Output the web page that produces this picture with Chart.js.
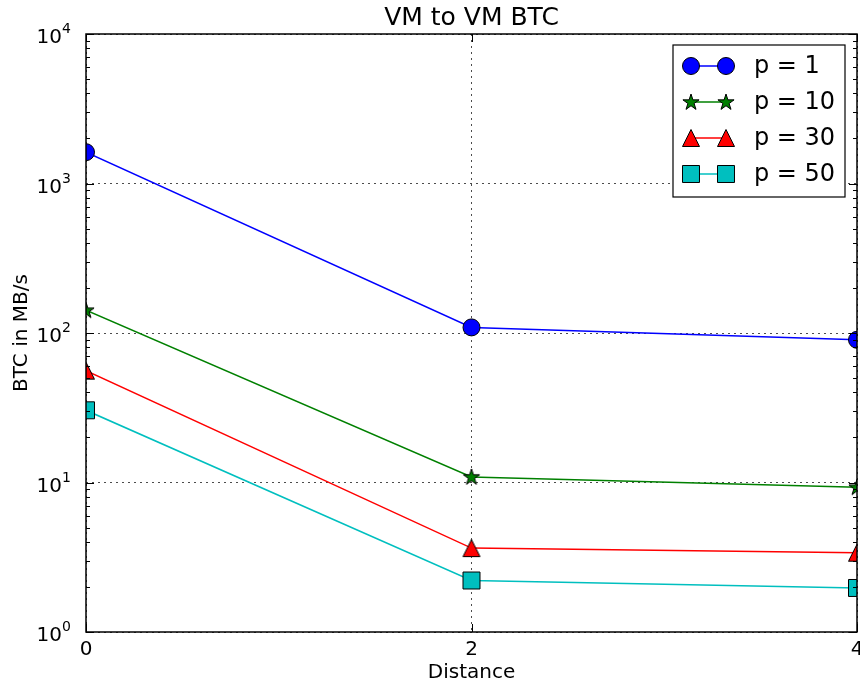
<!DOCTYPE html>
<html>
<head>
<meta charset="utf-8">
<script src="https://cdn.jsdelivr.net/npm/chart.js@4"></script>
<style>
  html, body { margin: 0; padding: 0; background: #fff; }
</style>
</head>
<body>
<canvas id="chart" width="860" height="683"></canvas>
<script>
  // values (log y axis)
  var DISTANCES = [0, 2, 4];
  var P1 = [1620, 109, 90];
  var P10 = [142, 10.9, 9.3];
  var P30 = [56, 3.64, 3.39];
  var P50 = [30.4, 2.21, 1.97];
  var SERIES_LABELS = ['p = 1', 'p = 10', 'p = 30', 'p = 50'];
  var X_TICKS = [0, 2, 4];
  var Y_TICKS = [1, 10, 100, 1000, 10000];
  var Y_EXPONENTS = ['0', '1', '2', '3', '4'];
  var TITLE = 'VM to VM BTC';
  var X_TITLE = 'Distance';
  var Y_TITLE = 'BTC in MB/s';

  var FONT = '"DejaVu Sans", sans-serif';

  function markerCanvas(draw) {
    var c = document.createElement('canvas');
    c.width = 20;
    c.height = 20;
    var g = c.getContext('2d');
    draw(g);
    return c;
  }

  var starMarker = markerCanvas(function (g) {
    var R = 8.5, r = R * 0.382;
    g.beginPath();
    for (var i = 0; i < 10; i++) {
      var rad = (i % 2 ? r : R);
      var ang = -Math.PI / 2 + i * Math.PI / 5;
      var px = 10 + Math.cos(ang) * rad, py = 10.5 + Math.sin(ang) * rad;
      if (i === 0) g.moveTo(px, py); else g.lineTo(px, py);
    }
    g.closePath();
    g.fillStyle = '#008000';
    g.fill();
    g.lineWidth = 1;
    g.strokeStyle = '#000';
    g.stroke();
  });

  var triangleMarker = markerCanvas(function (g) {
    g.beginPath();
    g.moveTo(10, 1.5);
    g.lineTo(1.5, 18.5);
    g.lineTo(18.5, 18.5);
    g.closePath();
    g.fillStyle = '#ff0000';
    g.fill();
    g.lineWidth = 1;
    g.strokeStyle = '#000';
    g.stroke();
  });

  function series(label, values, color, style, radius) {
    return {
      label: label,
      data: values,
      borderColor: color,
      backgroundColor: color,
      borderWidth: 1.5,
      pointStyle: style,
      pointRadius: radius,
      pointHoverRadius: radius,
      pointBackgroundColor: color,
      pointBorderColor: '#000',
      pointBorderWidth: 1,
      tension: 0,
      clip: 0
    };
  }

  var datasets = [
    series(SERIES_LABELS[0], P1, '#0000ff', 'circle', 8.5),
    series(SERIES_LABELS[1], P10, '#008000', starMarker, 8.5),
    series(SERIES_LABELS[2], P30, '#ff0000', triangleMarker, 8.5),
    series(SERIES_LABELS[3], P50, '#00bfbf', 'rect', 12)
  ];

  // matplotlib-like frame, inward ticks, mathtext-ish labels and legend
  var mplPlugin = {
    id: 'mplDecor',
    afterDatasetsDraw: function (chart) {
      var ctx = chart.ctx;
      var a = chart.chartArea;
      var xs = chart.scales.x;
      var ys = chart.scales.y;
      ctx.save();
      ctx.strokeStyle = '#000';
      ctx.lineWidth = 1;
      ctx.beginPath();
      X_TICKS.forEach(function (v) {
        var px = Math.round(xs.getPixelForValue(v)) + 0.5;
        ctx.moveTo(px, a.bottom); ctx.lineTo(px, a.bottom - 8);
        ctx.moveTo(px, a.top); ctx.lineTo(px, a.top + 8);
      });
      for (var d = 1; d <= 10000; d *= 10) {
        for (var k = 1; k <= 9; k++) {
          var v = d * k;
          if (v > 10000) break;
          var len = k === 1 ? 8 : 4;
          var py = Math.round(ys.getPixelForValue(v)) + 0.5;
          ctx.moveTo(a.left, py); ctx.lineTo(a.left + len, py);
          ctx.moveTo(a.right, py); ctx.lineTo(a.right - len, py);
        }
      }
      ctx.stroke();

      ctx.lineWidth = 1.5;
      ctx.strokeRect(a.left, a.top, a.right - a.left, a.bottom - a.top);

      // tick labels
      ctx.fillStyle = '#000';
      ctx.textBaseline = 'alphabetic';
      Y_TICKS.forEach(function (v, i) {
        var py = ys.getPixelForValue(v);
        ctx.font = '20px ' + FONT;
        ctx.textAlign = 'right';
        ctx.fillText('10', a.left - 24, py + 9);
        ctx.font = '14px ' + FONT;
        ctx.textAlign = 'left';
        ctx.fillText(Y_EXPONENTS[i], a.left - 24, py - 1);
      });
      ctx.font = '20px ' + FONT;
      ctx.textAlign = 'center';
      X_TICKS.forEach(function (v) {
        ctx.fillText(String(v), xs.getPixelForValue(v), a.bottom + 23);
      });

      // titles
      var cx = (a.left + a.right) / 2;
      ctx.fillText(X_TITLE, cx, a.bottom + 46);
      ctx.save();
      ctx.translate(27, (a.top + a.bottom) / 2);
      ctx.rotate(-Math.PI / 2);
      ctx.fillText(Y_TITLE, 0, 0);
      ctx.restore();
      ctx.font = '25px ' + FONT;
      ctx.fillText(TITLE, cx, 25);

      // legend: marker - line - marker, then label
      var bw = 172, bh = 152;
      var bx = a.right - 12 - bw, by = a.top + 11;
      ctx.fillStyle = '#fff';
      ctx.fillRect(bx, by, bw, bh);
      ctx.lineWidth = 1.2;
      ctx.strokeStyle = '#000';
      ctx.strokeRect(bx, by, bw, bh);
      datasets.forEach(function (ds, i) {
        var ry = by + 21 + i * 36;
        var x1 = bx + 18, x2 = bx + 53;
        ctx.beginPath();
        ctx.strokeStyle = ds.borderColor;
        ctx.lineWidth = 1.5;
        ctx.moveTo(x1, ry); ctx.lineTo(x2, ry);
        ctx.stroke();
        [x1, x2].forEach(function (mx) {
          ctx.fillStyle = ds.pointBackgroundColor;
          ctx.strokeStyle = '#000';
          ctx.lineWidth = 1;
          Chart.helpers.drawPoint(ctx, {
            pointStyle: ds.pointStyle, radius: ds.pointRadius, rotation: 0, borderWidth: 1
          }, mx, ry);
        });
        ctx.fillStyle = '#000';
        ctx.font = '24px ' + FONT;
        ctx.textAlign = 'left';
        ctx.textBaseline = 'middle';
        ctx.fillText(ds.label, bx + 81, ry + 1);
        ctx.textBaseline = 'alphabetic';
      });
      ctx.restore();
    }
  };

  new Chart(document.getElementById('chart'), {
    type: 'line',
    data: {
      labels: DISTANCES,
      datasets: datasets.map(function (ds) {
        var copy = Object.assign({}, ds);
        copy.data = ds.data.map(function (y, i) { return { x: DISTANCES[i], y: y }; });
        return copy;
      })
    },
    options: {
      responsive: false,
      animation: false,
      layout: { autoPadding: false, padding: { left: 0, right: 3, top: 34, bottom: 0 } },
      plugins: {
        legend: { display: false },
        tooltip: { enabled: false },
        title: { display: false }
      },
      scales: {
        x: {
          type: 'linear',
          min: 0,
          max: 4,
          afterBuildTicks: function (s) { s.ticks = X_TICKS.map(function (v) { return { value: v }; }); },
          afterFit: function (s) { s.height = 51; },
          ticks: { display: false },
          grid: { color: 'rgba(0,0,0,0.7)', lineWidth: 1, drawTicks: false },
          border: { display: false, dash: [2, 4] }
        },
        y: {
          type: 'logarithmic',
          min: 1,
          max: 10000,
          afterBuildTicks: function (s) { s.ticks = Y_TICKS.map(function (v) { return { value: v }; }); },
          afterFit: function (s) { s.width = 86; },
          ticks: { display: false },
          grid: { color: 'rgba(0,0,0,0.7)', lineWidth: 1, drawTicks: false },
          border: { display: false, dash: [2, 4] }
        }
      }
    },
    plugins: [mplPlugin]
  });
</script>
</body>
</html>
